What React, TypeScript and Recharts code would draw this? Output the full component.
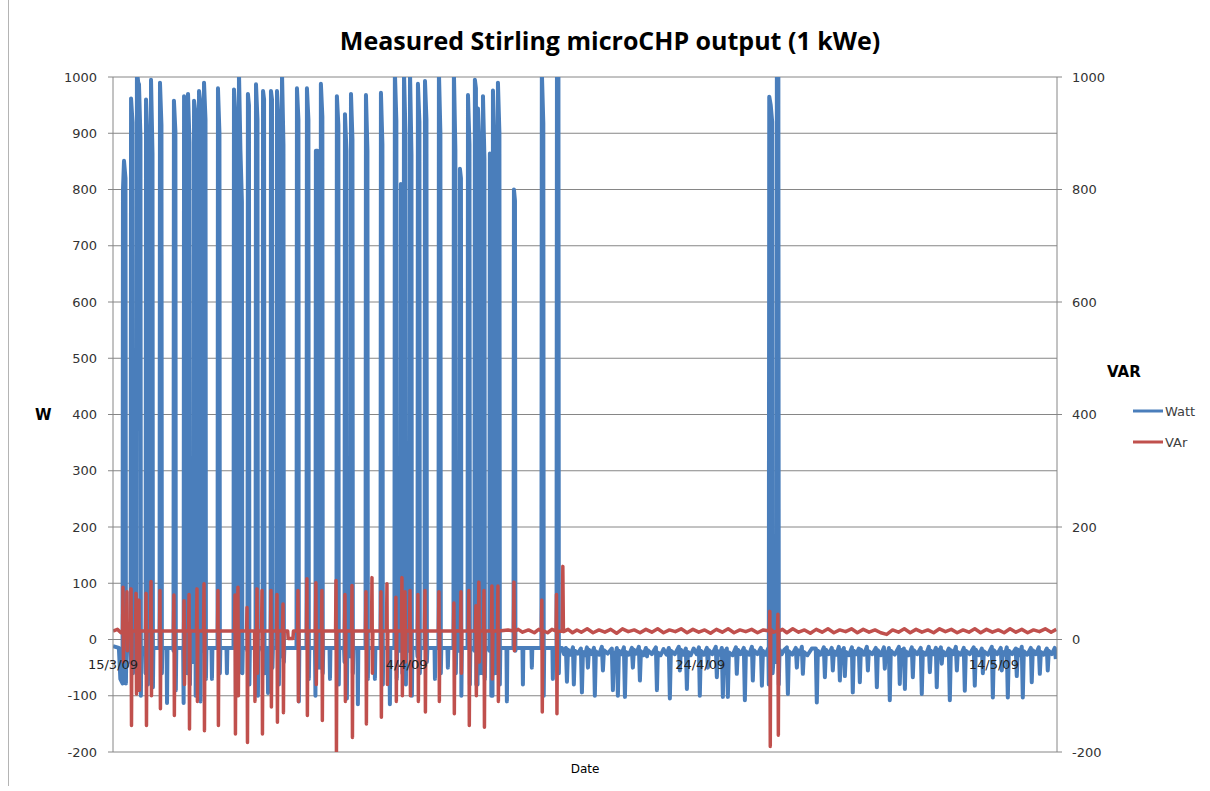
import { CartesianGrid, Legend, Line, LineChart, ReferenceDot, XAxis, YAxis } from "recharts";

type Point = [number, number];

// days after 15/3/09 00:00, active power in W while the unit cycles on and off
const wattCycling: Point[] = [
  [0.0, -12], [0.4, -15], [0.5, -70], [0.65, -78], [0.68, 800], [0.75, 851], [0.85, 820], [0.88, -78], [0.91, -15],
  [1.17, -15], [1.2, -40], [1.23, 962], [1.33, 919], [1.36, -60], [1.39, -15],
  [1.57, -15], [1.6, -50], [1.63, 1010], [1.72, 990], [1.77, 987], [1.87, 892], [1.9, -100], [1.93, -15],
  [2.19, -15], [2.22, -60], [2.25, 960], [2.35, 890], [2.38, -80], [2.41, -15],
  [2.53, -15], [2.56, -60], [2.59, 995], [2.69, 864], [2.72, -85], [2.75, -15],
  [3.14, -15], [3.17, -15], [3.2, 990], [3.3, 914], [3.33, -60], [3.36, -15],
  [3.65, -15], [3.68, -113], [3.71, -15],
  [4.09, -15], [4.12, -20], [4.15, 958], [4.25, 903], [4.28, -90], [4.31, -15],
  [4.78, -15], [4.81, -113], [4.84, 966], [4.9, 950], [4.93, -60], [4.96, -15],
  [5.05, -15], [5.08, -60], [5.11, 970], [5.21, 884], [5.24, -80], [5.27, -15],
  [5.46, -15], [5.49, -40], [5.52, 958], [5.6, 940], [5.63, -100], [5.66, -15],
  [5.8, -15], [5.83, -30], [5.86, 975], [5.93, 960], [5.96, -110], [5.99, -15],
  [6.14, -15], [6.17, -20], [6.2, 990], [6.3, 924], [6.33, -70], [6.36, -15],
  [6.71, -15], [6.74, -70], [6.77, -15],
  [7.09, -15], [7.12, -15], [7.15, 980], [7.25, 900], [7.28, -60], [7.31, -15],
  [7.73, -15], [7.76, -60], [7.79, -15],
  [8.18, -15], [8.21, -15], [8.24, 978], [8.34, 929], [8.37, -95], [8.4, -15],
  [8.52, -15], [8.55, -60], [8.58, 1010], [8.68, 869], [8.78, 778], [8.81, -60], [8.84, -15],
  [9.13, -15], [9.16, -20], [9.19, 970], [9.26, 950], [9.29, -80], [9.32, -15],
  [9.68, -15], [9.71, -15], [9.74, 987], [9.84, 924], [9.87, -100], [9.9, -15],
  [10.16, -15], [10.19, -20], [10.22, 975], [10.29, 960], [10.32, -60], [10.35, -15],
  [10.53, -15], [10.56, -95], [10.59, -15],
  [10.7, -15], [10.73, -30], [10.76, 975], [10.83, 960], [10.86, -50], [10.89, -15],
  [11.11, -15], [11.14, -15], [11.17, 975], [11.27, 924], [11.3, -80], [11.33, -15],
  [11.45, -15], [11.48, -30], [11.51, 1010], [11.61, 880], [11.64, -40], [11.67, -15],
  [12.47, -15], [12.5, -15], [12.53, 980], [12.63, 924], [12.66, -110], [12.69, -15],
  [13.15, -15], [13.18, -15], [13.21, 980], [13.31, 924], [13.34, -70], [13.37, -15],
  [13.76, -15], [13.79, -100], [13.82, 869], [13.92, 869], [13.95, -50], [13.98, -15],
  [14.1, -15], [14.13, -50], [14.16, 988], [14.26, 929], [14.29, -60], [14.32, -15],
  [14.75, -15], [14.78, -70], [14.81, -15],
  [15.19, -15], [15.22, -15], [15.25, 966], [15.35, 914], [15.38, -80], [15.41, -15],
  [15.74, -15], [15.77, -40], [15.8, 934], [15.9, 869], [15.93, -105], [15.96, -15],
  [16.15, -15], [16.18, -30], [16.21, 970], [16.31, 889], [16.34, -60], [16.37, -15],
  [16.65, -15], [16.68, -115], [16.71, -15],
  [17.17, -15], [17.2, -15], [17.23, 968], [17.33, 869], [17.36, -70], [17.39, -15],
  [17.81, -15], [17.84, -70], [17.87, -15],
  [18.19, -15], [18.22, -15], [18.25, 972], [18.35, 880], [18.38, -80], [18.41, -15],
  [18.83, -15], [18.86, -115], [18.89, -15],
  [19.14, -15], [19.17, -15], [19.2, 1010], [19.3, 922], [19.33, -70], [19.36, -15],
  [19.55, -15], [19.58, -20], [19.61, 810], [19.68, 800], [19.71, -60], [19.74, -15],
  [19.76, -15], [19.79, -60], [19.82, 1010], [19.92, 900], [19.95, -80], [19.98, -15],
  [20.17, -15], [20.2, -20], [20.23, 1010], [20.33, 862], [20.36, -100], [20.39, -15],
  [20.71, -15], [20.74, -30], [20.77, 988], [20.87, 920], [20.9, -60], [20.93, -15],
  [21.19, -15], [21.22, -15], [21.25, 993], [21.35, 924], [21.38, -40], [21.41, -15],
  [21.9, -15], [21.93, -70], [21.96, -15],
  [22.14, -15], [22.17, -15], [22.2, 1010], [22.3, 900], [22.33, -60], [22.36, -15],
  [22.78, -15], [22.81, -50], [22.84, -15],
  [23.16, -15], [23.19, -15], [23.22, 1010], [23.32, 870], [23.35, -60], [23.38, -15],
  [23.57, -15], [23.6, -20], [23.63, 837], [23.7, 820], [23.73, -100], [23.76, -15],
  [24.12, -15], [24.15, -15], [24.18, 968], [24.28, 880], [24.31, -80], [24.34, -15],
  [24.59, -15], [24.62, -20], [24.65, 995], [24.72, 980], [24.75, -80], [24.78, -15],
  [24.8, -15], [24.83, -80], [24.86, 944], [24.96, 880], [24.99, -60], [25.02, -15],
  [25.14, -15], [25.17, -60], [25.2, 966], [25.3, 855], [25.33, -70], [25.36, -15],
  [25.61, -15], [25.64, -20], [25.67, 864], [25.74, 850], [25.77, -100], [25.8, -15],
  [25.82, -15], [25.85, -100], [25.88, 976], [25.98, 880], [26.01, -60], [26.04, -15],
  [26.16, -15], [26.19, -60], [26.22, 990], [26.32, 900], [26.35, -80], [26.38, -15],
  [26.8, -15], [26.83, -110], [26.86, -15],
  [27.25, -15], [27.28, -15], [27.31, 800], [27.38, 780], [27.41, -20], [27.44, -15],
  [27.89, -15], [27.92, -80], [27.95, -15],
  [28.5, -15], [28.53, -50], [28.56, -15],
  [29.15, -15], [29.18, -15], [29.21, 1010], [29.31, 918], [29.34, -100], [29.37, -15],
  [29.93, -15], [29.96, -70], [29.99, -15],
  [30.18, -15], [30.21, -15], [30.24, 1010], [30.34, 1010], [30.37, -60], [30.4, -15],
  [30.58, -15],
];

// standby: short import dips, plus one run around 29/4
const wattStandby: Point[] = [
  [30.72, -26], [30.85, -15], [30.92, -75], [30.99, -18], [31.16, -27], [31.33, -14], [31.39, -80], [31.46, -20],
  [31.66, -25], [31.87, -16], [31.94, -94], [32.01, -22], [32.15, -28], [32.28, -14], [32.35, -50], [32.42, -18],
  [32.59, -26], [32.76, -15], [32.82, -100], [32.89, -21], [33.1, -27], [33.3, -13], [33.37, -55], [33.44, -19],
  [33.7, -25], [33.98, -16], [34.05, -90], [34.12, -24], [34.22, -28], [34.32, -15], [34.39, -100], [34.46, -20],
  [34.63, -26], [34.8, -14], [34.87, -102], [34.94, -22], [35.14, -27], [35.34, -15], [35.41, -50], [35.48, -18],
  [35.65, -25], [35.82, -13], [35.89, -73], [35.96, -21], [36.13, -28], [36.3, -15], [36.37, -30], [36.43, -19],
  [36.7, -26], [36.98, -14], [37.05, -90], [37.11, -23], [37.3, -28], [37.5, -17], [37.7, -27], [37.86, -15],
  [37.93, -105], [38.0, -20], [38.27, -26], [38.54, -13], [38.61, -55], [38.68, -18], [38.85, -27], [39.02, -16],
  [39.09, -88], [39.16, -22], [39.35, -28], [39.55, -16], [39.75, -26], [39.91, -14], [39.97, -100], [40.04, -20],
  [40.25, -27], [40.45, -15], [40.52, -50], [40.59, -19], [40.82, -26], [41.06, -13], [41.13, -67], [41.2, -21],
  [41.33, -27], [41.47, -15], [41.54, -102], [41.61, -20], [41.71, -26], [41.81, -16], [41.88, -102], [41.95, -23],
  [42.2, -28], [42.43, -14], [42.49, -61], [42.56, -18], [42.76, -26], [42.97, -15], [43.04, -108], [43.11, -21],
  [43.32, -27], [43.52, -13], [43.58, -73], [43.65, -19], [43.9, -26], [44.13, -15], [44.2, -82], [44.27, -20],
  [44.44, -27], [44.64, -15], [44.67, -80], [44.7, 965], [44.8, 950], [44.9, 920], [44.93, -60], [45.0, -30],
  [45.15, -40], [45.19, -40], [45.22, 1010], [45.32, 1010], [45.35, -80], [45.4, -18], [45.56, -26], [45.73, -18],
  [45.9, -14], [45.97, -97], [46.04, -21], [46.27, -27], [46.51, -15], [46.58, -50], [46.65, -19], [46.8, -26],
  [46.92, -13], [46.99, -61], [47.06, -22], [47.3, -28], [47.6, -16], [47.87, -16], [47.94, -112], [48.01, -20],
  [48.2, -27], [48.42, -14], [48.49, -67], [48.56, -18], [48.76, -26], [48.96, -15], [49.03, -55], [49.1, -21],
  [49.27, -27], [49.44, -13], [49.51, -73], [49.58, -19], [49.68, -26], [49.78, -15], [49.85, -65], [49.92, -22],
  [50.12, -28], [50.33, -14], [50.39, -94], [50.46, -20], [50.63, -26], [50.8, -16], [50.87, -76], [50.94, -18],
  [51.15, -27], [51.35, -13], [51.42, -55], [51.48, -21], [51.72, -26], [51.96, -15], [52.03, -85], [52.1, -19],
  [52.3, -28], [52.51, -14], [52.57, -52], [52.64, -22], [52.75, -26], [52.85, -15], [52.91, -108], [52.98, -20],
  [53.25, -27], [53.53, -13], [53.59, -79], [53.66, -18], [53.77, -26], [53.87, -16], [53.94, -88], [54.0, -21],
  [54.2, -28], [54.41, -14], [54.48, -67], [54.55, -19], [54.78, -26], [55.02, -15], [55.09, -97], [55.16, -22],
  [55.37, -27], [55.57, -13], [55.64, -58], [55.71, -20], [55.88, -26], [56.05, -15], [56.11, -85], [56.18, -18],
  [56.29, -27], [56.39, -14], [56.45, -43], [56.52, -21], [56.72, -28], [56.93, -16], [57.0, -108], [57.07, -19],
  [57.24, -26], [57.41, -13], [57.48, -55], [57.54, -22], [57.75, -27], [57.95, -15], [58.02, -91], [58.09, -20],
  [58.36, -26], [58.63, -14], [58.7, -82], [58.77, -18], [58.98, -28], [59.18, -16], [59.25, -60], [59.32, -21],
  [59.6, -27], [59.86, -13], [59.93, -103], [60.0, -19], [60.23, -26], [60.47, -15], [60.54, -55], [60.61, -22],
  [60.75, -27], [60.88, -14], [60.95, -103], [61.02, -20], [61.25, -26], [61.49, -16], [61.56, -65], [61.63, -18],
  [61.77, -28], [61.9, -13], [61.97, -103], [62.04, -21], [62.28, -27], [62.52, -15], [62.58, -76], [62.65, -19],
  [62.85, -26], [63.06, -14], [63.13, -61], [63.2, -22], [63.4, -27], [63.61, -16], [63.67, -55], [63.74, -20],
  [63.95, -26], [64.15, -15], [64.22, -35],
];

// days after 15/3/09, reactive power in VAr while cycling
const varCycling: Point[] = [
  [0.0, 15], [0.3, 18], [0.55, 12],
  [0.65, 15], [0.68, 93], [0.71, -40], [0.74, 15], [0.92, 15], [0.95, 85], [0.98, -20], [1.01, 15],
  [1.2, 15], [1.23, 90], [1.26, -153], [1.29, 15], [1.54, 15], [1.57, 82], [1.6, -97], [1.63, 15],
  [1.74, 15], [1.77, 70], [1.8, -90], [1.83, 15], [2.22, 15], [2.25, 82], [2.28, -153], [2.31, 15],
  [2.56, 15], [2.59, 103], [2.62, -100], [2.65, 15], [3.17, 15], [3.2, 87], [3.23, -123], [3.26, 15],
  [4.12, 15], [4.15, 79], [4.18, -135], [4.21, 15], [4.81, 15], [4.84, 69], [4.87, -80], [4.9, 15],
  [5.15, 15], [5.18, 80], [5.21, -159], [5.24, 15], [5.69, 15], [5.72, 90], [5.75, -110], [5.78, 15],
  [6.17, 15], [6.2, 99], [6.23, -162], [6.26, 15], [7.12, 15], [7.15, 87], [7.18, -153], [7.21, 15],
  [8.28, 15], [8.31, 79], [8.34, -168], [8.37, 15], [8.48, 15], [8.51, 93], [8.54, -100], [8.57, 15],
  [9.1, 15], [9.13, 57], [9.16, -183], [9.19, 15], [9.64, 15], [9.67, -110], [9.7, 15],
  [9.78, 15], [9.81, 90], [9.84, -60], [9.87, 15], [10.12, 15], [10.15, 87], [10.18, -168], [10.21, 15],
  [10.73, 15], [10.76, 87], [10.79, -120], [10.82, 15], [11.14, 15], [11.17, 80], [11.2, -147], [11.23, 15],
  [11.55, 15], [11.58, 63], [11.61, -130], [11.64, 15], [11.9, 15], [11.93, 2], [12.26, 2], [12.29, 15],
  [12.57, 15], [12.6, 87], [12.63, -110], [12.66, 15], [13.18, 15], [13.21, 108], [13.24, -135], [13.27, 15],
  [13.79, 15], [13.82, 101], [13.85, -80], [13.88, 15], [14.2, 15], [14.23, 87], [14.26, -144], [14.29, 15],
  [15.16, 15], [15.19, 105], [15.22, -200], [15.25, 15], [15.77, 15], [15.8, 80], [15.83, -110], [15.86, 15],
  [16.25, 15], [16.28, 96], [16.31, -174], [16.34, 15], [17.2, 15], [17.23, 85], [17.26, -150], [17.29, 15],
  [17.61, 15], [17.64, 110], [17.67, -60], [17.7, 15], [18.22, 15], [18.25, 85], [18.28, -138], [18.31, 15],
  [18.63, 15], [18.66, 99], [18.69, -80], [18.72, 15], [19.24, 15], [19.27, 75], [19.3, -110], [19.33, 15],
  [19.65, 15], [19.68, 110], [19.71, -100], [19.74, 15], [19.86, 15], [19.89, 85], [19.92, -40], [19.95, 15],
  [20.2, 15], [20.23, 87], [20.26, -100], [20.29, 15], [20.74, 15], [20.77, 80], [20.8, -110], [20.83, 15],
  [21.22, 15], [21.25, 87], [21.28, -129], [21.31, 15], [22.17, 15], [22.2, 85], [22.23, -110], [22.26, 15],
  [23.19, 15], [23.22, 65], [23.25, -132], [23.28, 15], [23.67, 15], [23.7, 85], [23.73, -60], [23.76, 15],
  [24.21, 15], [24.24, 87], [24.27, -153], [24.3, 15], [24.69, 15], [24.72, 60], [24.75, -100], [24.78, 15],
  [24.89, 15], [24.92, 102], [24.95, -40], [24.98, 15], [25.24, 15], [25.27, 87], [25.3, -156], [25.33, 15],
  [25.78, 15], [25.81, 95], [25.84, -70], [25.87, 15], [26.19, 15], [26.22, 95], [26.25, -110], [26.28, 15],
  [26.9, 17], [27.28, 15], [27.31, 102], [27.34, -20], [27.37, 15],
];

// reactive power once the unit sits mostly in standby
const varStandby: Point[] = [
  [27.6, 18], [27.9, 13], [28.3, 17], [28.7, 12], [29.0, 18], [29.18, 15], [29.21, 70], [29.24, -129],
  [29.27, 16], [29.6, 12], [29.9, 18], [30.18, 15], [30.21, 80], [30.24, -132], [30.27, 14], [30.6, 15],
  [30.64, 130], [30.68, 14], [31.0, 18], [31.3, 12], [31.6, 17], [31.9, 13], [32.3, 19], [32.7, 12],
  [33.1, 17], [33.5, 13], [33.9, 18], [34.3, 11], [34.7, 19], [35.1, 14], [35.5, 17], [35.9, 12],
  [36.3, 18], [36.7, 13], [37.1, 19], [37.5, 12], [37.9, 17], [38.3, 14], [38.7, 19], [39.1, 12],
  [39.5, 18], [39.9, 13], [40.3, 17], [40.7, 11], [41.1, 18], [41.5, 13], [41.9, 19], [42.3, 12],
  [42.7, 17], [43.1, 14], [43.5, 18], [43.9, 12], [44.3, 17], [44.71, 15], [44.74, 50], [44.77, -190],
  [44.8, 18], [45.0, 13], [45.26, 15], [45.29, 45], [45.32, -170], [45.35, 15], [45.6, 18], [45.9, 12],
  [46.3, 19], [46.7, 13], [47.1, 17], [47.5, 11], [47.9, 18], [48.3, 13], [48.7, 19], [49.1, 12],
  [49.5, 17], [49.9, 14], [50.3, 19], [50.7, 12], [51.1, 18], [51.5, 13], [51.9, 17], [52.3, 12],
  [52.7, 9], [53.1, 17], [53.5, 13], [53.9, 19], [54.3, 12], [54.7, 18], [55.1, 13], [55.5, 17],
  [55.9, 12], [56.3, 19], [56.7, 14], [57.1, 18], [57.5, 12], [57.9, 17], [58.3, 13], [58.7, 19],
  [59.1, 12], [59.5, 18], [59.9, 13], [60.3, 17], [60.7, 12], [61.1, 19], [61.5, 13], [61.9, 18],
  [62.3, 12], [62.7, 17], [63.1, 14], [63.5, 19], [63.9, 13], [64.25, 18],
];

const wattTicks = [-200, -100, 0, 100, 200, 300, 400, 500, 600, 700, 800, 900, 1000];
const varTicks = [-200, 0, 200, 400, 600, 800, 1000];
const dateTickDays = [0, 20, 40, 60];
const dateTickLabels = ["15/3/09", "4/4/09", "24/4/09", "14/5/09"];
const legendOrder = ["Watt", "VAr"];

const wattData = [...wattCycling, ...wattStandby].map(([day, watt]) => ({ day, watt }));
const varData = [...varCycling, ...varStandby].map(([day, v]) => ({ day, var: v }));

const GRID = "#868686";
const FONT = "'DejaVu Sans', sans-serif";

function LegendBox({ payload }: any) {
  const items = [...(payload ?? [])].sort(
    (a: any, b: any) => legendOrder.indexOf(a.value) - legendOrder.indexOf(b.value)
  );
  return (
    <svg width={80} height={56}>
      {items.map((entry: any, i: number) => (
        <g key={entry.value}>
          <line x1={3} x2={33} y1={13 + 31 * i} y2={13 + 31 * i} stroke={entry.color} strokeWidth={3} />
          <text x={35} y={18 + 31 * i} fontSize={13} fill="#404040" fontFamily={FONT}>
            {entry.value}
          </text>
        </g>
      ))}
    </svg>
  );
}

export default function App() {
  return (
    <div
      style={{
        position: "absolute",
        left: 0,
        top: 0,
        width: 1210,
        height: 791,
        background: "#fff",
        fontFamily: FONT,
      }}
    >
      <div style={{ position: "absolute", left: 8, top: 0, width: 1, height: 786, background: "#b4b4b4" }} />
      <div
        style={{
          position: "absolute",
          left: 0,
          top: 23,
          width: 1220,
          textAlign: "center",
          fontFamily: "'Open Sans', sans-serif",
          fontWeight: 700,
          fontSize: 25,
          color: "#000",
        }}
      >
        Measured Stirling microCHP output (1 kWe)
      </div>
      <div style={{ position: "absolute", left: 1107, top: 363, fontWeight: "bold", fontSize: 15, color: "#000" }}>
        VAR
      </div>
      <div style={{ position: "absolute", left: 0, top: 0 }}>
        <LineChart width={1210} height={791} margin={{ top: 77, right: 0, bottom: 0, left: 0 }}>
          <CartesianGrid yAxisId="w" vertical={false} stroke={GRID} />
          <XAxis
            type="number"
            dataKey="day"
            domain={[0, 64.3]}
            allowDataOverflow
            ticks={dateTickDays}
            tick={false}
            tickLine={false}
            axisLine={false}
            height={39}
            label={{ value: "Date", position: "insideBottom", offset: 18, fontSize: 12, fill: "#000" }}
          />
          <YAxis
            yAxisId="w"
            orientation="left"
            width={113}
            domain={[-200, 1000]}
            ticks={wattTicks}
            interval={0}
            allowDataOverflow
            axisLine={{ stroke: GRID }}
            tickLine={{ stroke: GRID }}
            tickSize={5}
            tickMargin={11}
            tick={{ fontSize: 13, fill: "#333", fontFamily: FONT }}
            label={{ value: "W", position: "insideLeft", offset: 35, fontSize: 15, fontWeight: "bold", fill: "#000" }}
          />
          <YAxis
            yAxisId="v"
            orientation="right"
            width={153}
            domain={[-200, 1000]}
            ticks={varTicks}
            interval={0}
            allowDataOverflow
            axisLine={{ stroke: GRID }}
            tickLine={{ stroke: GRID }}
            tickSize={5}
            tickMargin={10}
            tick={{ fontSize: 13, fill: "#333", fontFamily: FONT }}
          />
          <Line
            yAxisId="w"
            data={wattData}
            dataKey="watt"
            name="Watt"
            stroke="#4A7EBB"
            strokeWidth={4}
            strokeLinejoin="round"
            dot={false}
            isAnimationActive={false}
          />
          <Line
            yAxisId="v"
            data={varData}
            dataKey="var"
            name="VAr"
            stroke="#C0504D"
            strokeWidth={3.5}
            strokeLinejoin="round"
            dot={false}
            isAnimationActive={false}
          />
          {dateTickDays.map((d, i) => (
            <ReferenceDot
              key={d}
              yAxisId="w"
              x={d}
              y={0}
              r={0}
              fill="none"
              stroke="none"
              label={{ value: dateTickLabels[i], position: "bottom", offset: 20, fontSize: 13, fill: "#222" }}
            />
          ))}
          <Legend
            layout="vertical"
            align="center"
            verticalAlign="middle"
            wrapperStyle={{ left: 1130, top: 398, width: 80, height: 56 }}
            content={LegendBox}
          />
        </LineChart>
      </div>
    </div>
  );
}
